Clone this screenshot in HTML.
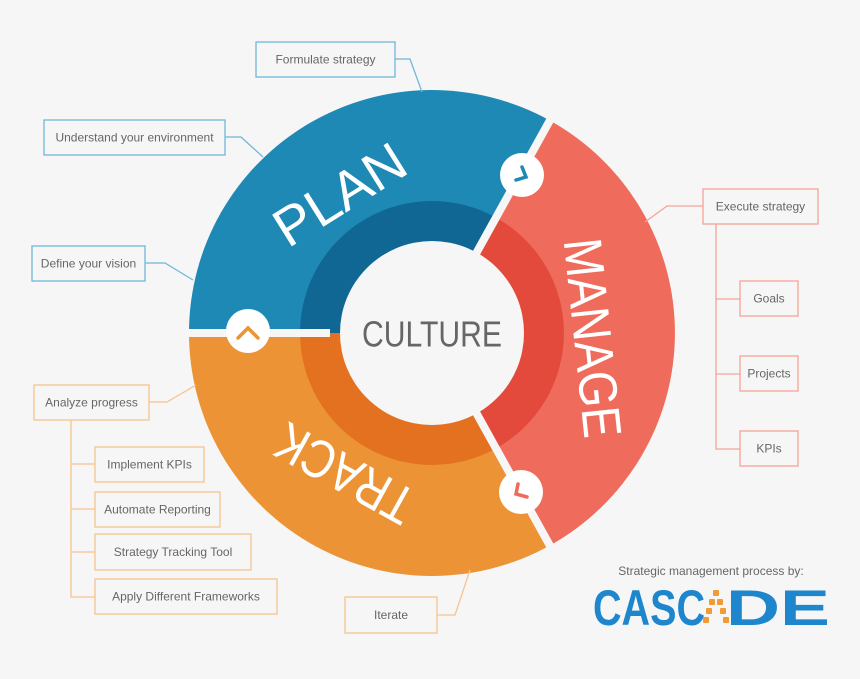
<!DOCTYPE html>
<html><head><meta charset="utf-8"><style>
html,body{margin:0;padding:0;background:#f6f6f6;}
svg{display:block;font-family:"Liberation Sans",sans-serif;}
</style></head><body>
<svg width="860" height="679" viewBox="0 0 860 679" xmlns="http://www.w3.org/2000/svg">
<rect width="860" height="679" fill="#f6f6f6"/>
<!-- outer segments -->
<path d="M432,333 L189,333 A243,243 0 0 1 549.8,120.5 Z" fill="#1d89b4"/>
<path d="M432,333 L549.8,120.5 A243,243 0 0 1 549.8,545.5 Z" fill="#ef6b5b"/>
<path d="M432,333 L549.8,545.5 A243,243 0 0 1 189,333 Z" fill="#ec9435"/>
<!-- inner segments -->
<path d="M432,333 L300,333 A132,132 0 0 1 496,217.6 Z" fill="#106794"/>
<path d="M432,333 L496,217.6 A132,132 0 0 1 496,448.4 Z" fill="#e34a3b"/>
<path d="M432,333 L496,448.4 A132,132 0 0 1 300,333 Z" fill="#e4711f"/>
<circle cx="432" cy="333" r="92" fill="#f6f6f6"/>
<!-- gaps -->
<g stroke="#f6f6f6" stroke-width="8">
<line x1="432" y1="333" x2="553.7" y2="113.5"/>
<line x1="432" y1="333" x2="553.7" y2="552.5"/>
<line x1="330" y1="333" x2="180" y2="333"/>
</g>
<!-- buttons -->
<circle cx="522" cy="175" r="22" fill="#fff"/>
<polyline points="516,180 526,177 522,167" fill="none" stroke="#1d89b4" stroke-width="3.5" stroke-linecap="round"/>
<circle cx="521" cy="492" r="22" fill="#fff"/>
<polyline points="518,484 516,494 527,497" fill="none" stroke="#ef6b5b" stroke-width="3.5" stroke-linecap="round"/>
<circle cx="248" cy="331" r="22" fill="#fff"/>
<polyline points="238,338 248,328 258,338" fill="none" stroke="#ec9435" stroke-width="3.5" stroke-linecap="round"/>
<!-- big labels -->
<text x="340" y="195" transform="rotate(-32 340 195)" font-size="54" fill="#fff" text-anchor="middle" dominant-baseline="central" textLength="145" lengthAdjust="spacingAndGlyphs">PLAN</text>
<text x="592" y="338" transform="rotate(84 592 338)" font-size="54" fill="#fff" text-anchor="middle" dominant-baseline="central" textLength="200" lengthAdjust="spacingAndGlyphs">MANAGE</text>
<text x="345" y="473" transform="rotate(209 345 473)" font-size="54" fill="#fff" text-anchor="middle" dominant-baseline="central" textLength="150" lengthAdjust="spacingAndGlyphs">TRACK</text>
<text x="432" y="334" font-size="36" fill="#666" text-anchor="middle" dominant-baseline="central" textLength="140" lengthAdjust="spacingAndGlyphs">CULTURE</text>
<!-- plan boxes -->
<g fill="none" stroke="#6fb7da" stroke-width="1.3">
<rect x="256" y="42" width="139" height="35" fill="#f6f6f6"/>
<polyline points="395,59 410,59 422,92"/>
<rect x="44" y="120" width="181" height="35" fill="#f6f6f6"/>
<polyline points="225,137 241,137 263,157"/>
<rect x="32" y="246" width="113" height="35" fill="#f6f6f6"/>
<polyline points="145,263 165,263 193,280"/>
</g>
<!-- manage boxes -->
<g fill="none" stroke="#f5a398" stroke-width="1.3">
<rect x="703" y="189" width="115" height="35" fill="#f6f6f6"/>
<polyline points="703,206 667,206 645,222"/>
<polyline points="716,224 716,449 740,449"/>
<line x1="716" y1="299" x2="740" y2="299"/>
<line x1="716" y1="374" x2="740" y2="374"/>
<rect x="740" y="281" width="58" height="35" fill="#f6f6f6"/>
<rect x="740" y="356" width="58" height="35" fill="#f6f6f6"/>
<rect x="740" y="431" width="58" height="35" fill="#f6f6f6"/>
</g>
<!-- track boxes -->
<g fill="none" stroke="#f6c48d" stroke-width="1.3">
<rect x="34" y="385" width="115" height="35" fill="#f6f6f6"/>
<polyline points="149,402 167,402 196,385"/>
<polyline points="71,420 71,597 95,597"/>
<line x1="71" y1="464" x2="95" y2="464"/>
<line x1="71" y1="509" x2="95" y2="509"/>
<line x1="71" y1="552" x2="95" y2="552"/>
<rect x="95" y="447" width="109" height="35" fill="#f6f6f6"/>
<rect x="95" y="492" width="125" height="35" fill="#f6f6f6"/>
<rect x="95" y="534" width="156" height="36" fill="#f6f6f6"/>
<rect x="95" y="579" width="182" height="35" fill="#f6f6f6"/>
<rect x="345" y="597" width="92" height="36" fill="#f6f6f6"/>
<polyline points="437,615 455,615 470,570"/>
</g>
<!-- box text -->
<g font-size="12" fill="#666" text-anchor="middle" dominant-baseline="central">
<text x="325.5" y="59.5">Formulate strategy</text>
<text x="134.5" y="137.5">Understand your environment</text>
<text x="88.5" y="263.5">Define your vision</text>
<text x="760.5" y="206.5">Execute strategy</text>
<text x="769" y="298.5">Goals</text>
<text x="769" y="373.5">Projects</text>
<text x="769" y="448.5">KPIs</text>
<text x="91.5" y="402.5">Analyze progress</text>
<text x="149.5" y="464.5">Implement KPIs</text>
<text x="157.5" y="509.5">Automate Reporting</text>
<text x="173" y="552">Strategy Tracking Tool</text>
<text x="186" y="596.5">Apply Different Frameworks</text>
<text x="391" y="615">Iterate</text>
</g>
<!-- logo -->
<text x="711" y="571" font-size="12" fill="#666" text-anchor="middle" dominant-baseline="central">Strategic management process by:</text>
<text x="593" y="625" font-size="50" font-weight="bold" fill="#1e86cc" textLength="112" lengthAdjust="spacingAndGlyphs">CASC</text>
<text x="726" y="625" font-size="50" font-weight="bold" fill="#1e86cc" textLength="104" lengthAdjust="spacingAndGlyphs">DE</text>
<g fill="#f29a33">
<rect x="713" y="590" width="6" height="6" rx="1"/>
<rect x="709" y="599" width="6" height="6" rx="1"/>
<rect x="717" y="599" width="6" height="6" rx="1"/>
<rect x="706" y="608" width="6" height="6" rx="1"/>
<rect x="720" y="608" width="6" height="6" rx="1"/>
<rect x="703" y="617" width="6" height="6" rx="1"/>
<rect x="723" y="617" width="6" height="6" rx="1"/>
</g>
</svg>
</body></html>
